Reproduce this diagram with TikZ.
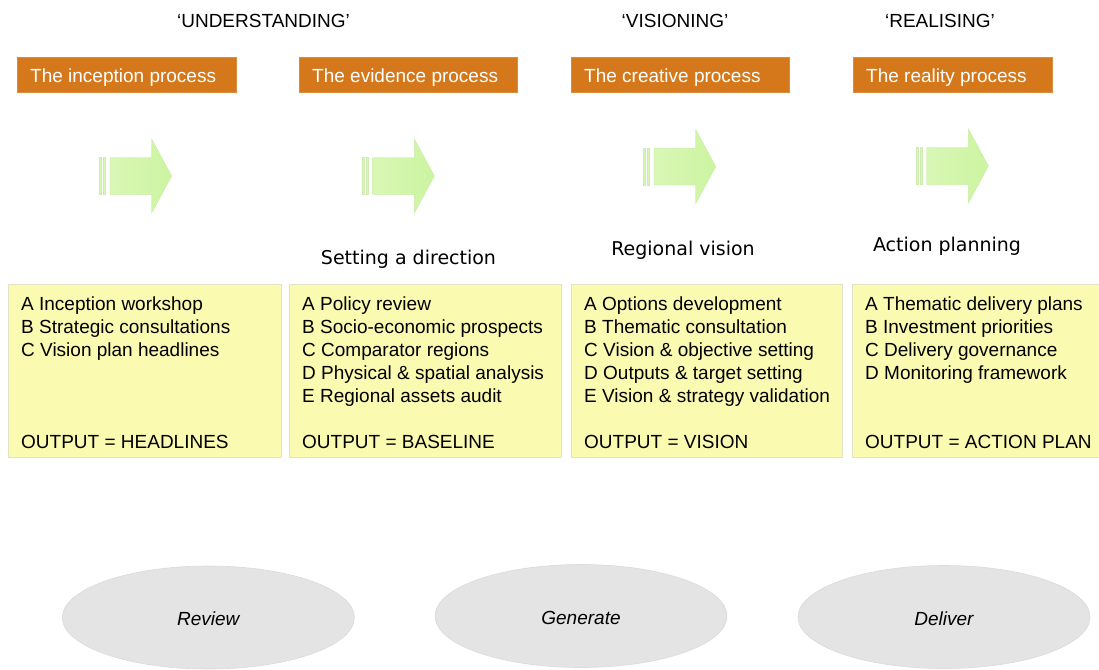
\documentclass[tikz,border=0pt]{standalone}
\usepackage{fontspec}
\setmainfont{Liberation Sans}
\newfontfamily\verdfont{DejaVu Sans}
\usetikzlibrary{shapes.geometric}

\definecolor{hdrorange}{RGB}{213,120,27}
\definecolor{notefill}{RGB}{250,250,176}
\definecolor{noteedge}{RGB}{226,226,196}
\definecolor{arrowdark}{RGB}{204,244,160}
\definecolor{arrowlight}{RGB}{216,247,182}
\definecolor{arrowedge}{RGB}{206,236,178}
\definecolor{ovalfill}{RGB}{228,228,228}
\definecolor{ovaledge}{RGB}{218,218,218}

\tikzset{
  fwdarrow/.pic={
    \fill[arrowlight, draw=arrowedge, line width=0.4pt] (0,-18.5) rectangle (2,18.5);
    \fill[arrowlight, draw=arrowedge, line width=0.4pt] (4,-18.5) rectangle (6,18.5);
    \fill[arrowlight] (10.7,-18.5) -- (52.4,-18.5) -- (52.4,-37) -- (72.4,0) -- (52.4,37)
      -- (52.4,18.5) -- (10.7,18.5) -- cycle;
    \shade[left color=arrowlight, right color=arrowdark, draw=arrowedge, line width=0.4pt]
      (10.7,-18.5) -- (52.4,-18.5) -- (52.4,-37) -- (72.4,0) -- (52.4,37)
      -- (52.4,18.5) -- (10.7,18.5) -- cycle;
  }
}

\begin{document}
\begin{tikzpicture}[x=1pt,y=-1pt,
  bigtext/.style={font=\fontsize{19}{23}\selectfont, inner sep=0pt},
  linetext/.style={bigtext, anchor=base west},
  phase/.style={bigtext, anchor=base},
  stage/.style={bigtext, anchor=base, font=\verdfont\fontsize{19}{23}\selectfont},
  hdrbox/.style={rectangle, fill=hdrorange, draw=hdrorange!85!white, line width=0.5pt,
    inner sep=0pt, anchor=north west, minimum height=35pt},
  hdrtext/.style={linetext, text=white},
  notebox/.style={rectangle, fill=notefill, draw=noteedge, line width=0.8pt,
    inner sep=0pt, anchor=north west, minimum height=173pt},
  oval/.style={ellipse, fill=ovalfill, draw=ovaledge, line width=0.6pt,
    minimum width=292pt, minimum height=103pt, inner sep=0pt},
  ovaltext/.style={phase, font=\fontsize{19}{23}\selectfont\itshape}
]
\useasboundingbox (0,0) rectangle (1099,669);

% phase titles
\node[phase] (pUnd) at (263.5,27.3) {‘UNDERSTANDING’};
\node[phase] (pVis) at (675,27.3) {‘VISIONING’};
\node[phase] (pRea) at (940,27.3) {‘REALISING’};

% orange process headers
\node[hdrbox, minimum width=219pt] (h1) at (17,57) {};
\node[hdrbox, minimum width=218pt] (h2) at (299,57) {};
\node[hdrbox, minimum width=218pt] (h3) at (571,57) {};
\node[hdrbox, minimum width=199pt] (h4) at (853,57) {};
\node[hdrtext] (h1t) at (30,82.7) {The inception process};
\node[hdrtext] (h2t) at (312,82.7) {The evidence process};
\node[hdrtext] (h3t) at (584,82.7) {The creative process};
\node[hdrtext] (h4t) at (866,82.7) {The reality process};

% forward arrows
\pic (a1) at (99.3,176) {fwdarrow};
\pic (a2) at (362,176) {fwdarrow};
\pic (a3) at (643.3,166.5) {fwdarrow};
\pic (a4) at (916,166) {fwdarrow};

% stage titles
\node[stage] (s2) at (408.5,264) {Setting a direction};
\node[stage] (s3) at (683,255) {Regional vision};
\node[stage] (s4) at (947,251.7) {Action planning};

% activity boxes
\node[notebox, minimum width=273pt] (box1) at (8,284) {};
\node[notebox, minimum width=272pt] (box2) at (289,284) {};
\node[notebox, minimum width=271pt] (box3) at (571,284) {};
\node[notebox, minimum width=250pt] (box4) at (852,284) {};

\foreach \t [count=\i] in {A Inception workshop, B Strategic consultations, C Vision plan headlines}
  \node[linetext] (b1-\i) at (21,{310.7+(\i-1)*22.9}) {\t};
\node[linetext] (b1-out) at (21,448.3) {OUTPUT = HEADLINES};

\foreach \t [count=\i] in {A Policy review, B Socio-economic prospects, C Comparator regions,
    D Physical \& spatial analysis, E Regional assets audit}
  \node[linetext] (b2-\i) at (302,{310.7+(\i-1)*22.9}) {\t};
\node[linetext] (b2-out) at (302,448.3) {OUTPUT = BASELINE};

\foreach \t [count=\i] in {A Options development, B Thematic consultation, C Vision \& objective setting,
    D Outputs \& target setting, E Vision \& strategy validation}
  \node[linetext] (b3-\i) at (584,{310.7+(\i-1)*22.9}) {\t};
\node[linetext] (b3-out) at (584,448.3) {OUTPUT = VISION};

\foreach \t [count=\i] in {A Thematic delivery plans, B Investment priorities, C Delivery governance,
    D Monitoring framework}
  \node[linetext] (b4-\i) at (865,{310.7+(\i-1)*22.9}) {\t};
\node[linetext] (b4-out) at (865,448.3) {OUTPUT = ACTION PLAN};

% mode ovals
\node[oval] (oReview) at (208.3,617.5) {};
\node[oval] (oGenerate) at (581,616) {};
\node[oval] (oDeliver) at (944,617) {};
\node[ovaltext] (tReview) at (208.3,625.7) {Review};
\node[ovaltext] (tGenerate) at (581,624.2) {Generate};
\node[ovaltext] (tDeliver) at (944,625.2) {Deliver};
\end{tikzpicture}
\end{document}
